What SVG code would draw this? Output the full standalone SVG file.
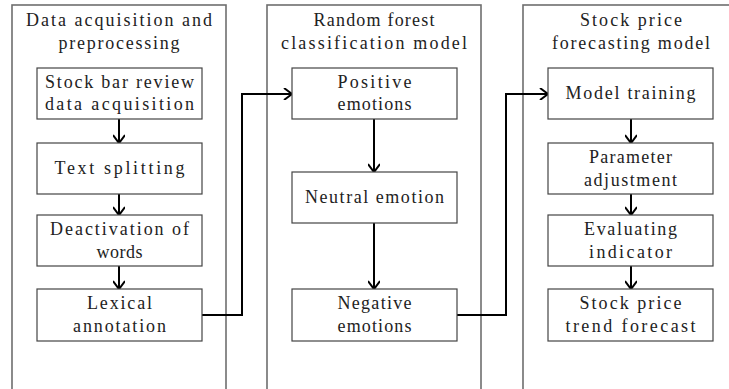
<svg xmlns="http://www.w3.org/2000/svg" width="729" height="389" viewBox="0 0 729 389">
<style>
.panel{fill:none;stroke:#6e6e6e;stroke-width:1.6}
.box{fill:#fff;stroke:#444;stroke-width:1.2}
.t{font-family:"Liberation Serif","Times New Roman",serif;font-size:18px;fill:#222;text-anchor:middle}
.c{fill:none;stroke:#000;stroke-width:2}
</style>
<defs>
<marker id="ah" markerWidth="12" markerHeight="12" refX="9" refY="6" orient="auto" markerUnits="userSpaceOnUse">
<polyline points="1,0 9,6 1,12" fill="none" stroke="#000" stroke-width="2"/>
</marker>
</defs>
<rect fill="#fff" x="0" y="0" width="729" height="389"/>
<g id="panel1">
<rect class="panel" x="12" y="5" width="214" height="400"/>
<text class="t" x="119" y="26" textLength="186" lengthAdjust="spacing">Data acquisition and</text>
<text class="t" x="119" y="49" textLength="121" lengthAdjust="spacing">preprocessing</text>
</g>
<g id="panel2">
<rect class="panel" x="267" y="5" width="214" height="400"/>
<text class="t" x="374" y="26" textLength="121" lengthAdjust="spacing">Random forest</text>
<text class="t" x="374" y="49" textLength="186" lengthAdjust="spacing">classification model</text>
</g>
<g id="panel3">
<rect class="panel" x="523" y="5" width="214" height="400"/>
<text class="t" x="631" y="26" textLength="102" lengthAdjust="spacing">Stock price</text>
<text class="t" x="631" y="49" textLength="158" lengthAdjust="spacing">forecasting model</text>
</g>
<g id="connectors">
<line class="c" x1="119" y1="119" x2="119" y2="143" marker-end="url(#ah)"/>
<line class="c" x1="119" y1="194" x2="119" y2="215" marker-end="url(#ah)"/>
<line class="c" x1="119" y1="266" x2="119" y2="289" marker-end="url(#ah)"/>
<polyline class="c" points="202,315 242,315 242,94 292,94" marker-end="url(#ah)"/>
<line class="c" x1="374" y1="119" x2="374" y2="172" marker-end="url(#ah)"/>
<line class="c" x1="374" y1="223" x2="374" y2="289" marker-end="url(#ah)"/>
<polyline class="c" points="457,315 506,315 506,94 548,94" marker-end="url(#ah)"/>
<line class="c" x1="631" y1="119" x2="631" y2="143" marker-end="url(#ah)"/>
<line class="c" x1="631" y1="194" x2="631" y2="215" marker-end="url(#ah)"/>
<line class="c" x1="631" y1="266" x2="631" y2="289" marker-end="url(#ah)"/>
</g>
<g id="n1">
<rect class="box" x="37" y="68" width="165" height="51"/>
<text class="t" x="119.5" y="88" textLength="149" lengthAdjust="spacing">Stock bar review</text>
<text class="t" x="119.5" y="110" textLength="149" lengthAdjust="spacing">data acquisition</text>
</g>
<g id="n2">
<rect class="box" x="37" y="143" width="165" height="51"/>
<text class="t" x="119.5" y="174" textLength="130" lengthAdjust="spacing">Text splitting</text>
</g>
<g id="n3">
<rect class="box" x="37" y="215" width="165" height="51"/>
<text class="t" x="119.5" y="235" textLength="139" lengthAdjust="spacing">Deactivation of</text>
<text class="t" x="119.5" y="258" textLength="46" lengthAdjust="spacing">words</text>
</g>
<g id="n4">
<rect class="box" x="37" y="289" width="165" height="52"/>
<text class="t" x="119.5" y="309" textLength="65" lengthAdjust="spacing">Lexical</text>
<text class="t" x="119.5" y="332" textLength="93" lengthAdjust="spacing">annotation</text>
</g>
<g id="n5">
<rect class="box" x="292" y="68" width="165" height="51"/>
<text class="t" x="374.5" y="88" textLength="74" lengthAdjust="spacing">Positive</text>
<text class="t" x="374.5" y="110" textLength="74" lengthAdjust="spacing">emotions</text>
</g>
<g id="n6">
<rect class="box" x="292" y="172" width="165" height="51"/>
<text class="t" x="374.5" y="203" textLength="139" lengthAdjust="spacing">Neutral emotion</text>
</g>
<g id="n7">
<rect class="box" x="292" y="289" width="165" height="52"/>
<text class="t" x="374.5" y="309" textLength="74" lengthAdjust="spacing">Negative</text>
<text class="t" x="374.5" y="332" textLength="74" lengthAdjust="spacing">emotions</text>
</g>
<g id="n8">
<rect class="box" x="548" y="68" width="165" height="51"/>
<text class="t" x="630.5" y="99" textLength="130" lengthAdjust="spacing">Model training</text>
</g>
<g id="n9">
<rect class="box" x="548" y="143" width="165" height="51"/>
<text class="t" x="630.5" y="163" textLength="83" lengthAdjust="spacing">Parameter</text>
<text class="t" x="630.5" y="186" textLength="93" lengthAdjust="spacing">adjustment</text>
</g>
<g id="n10">
<rect class="box" x="548" y="215" width="165" height="51"/>
<text class="t" x="630.5" y="235" textLength="93" lengthAdjust="spacing">Evaluating</text>
<text class="t" x="630.5" y="258" textLength="83" lengthAdjust="spacing">indicator</text>
</g>
<g id="n11">
<rect class="box" x="548" y="289" width="165" height="52"/>
<text class="t" x="630.5" y="309" textLength="102" lengthAdjust="spacing">Stock price</text>
<text class="t" x="630.5" y="332" textLength="130" lengthAdjust="spacing">trend forecast</text>
</g>
</svg>
